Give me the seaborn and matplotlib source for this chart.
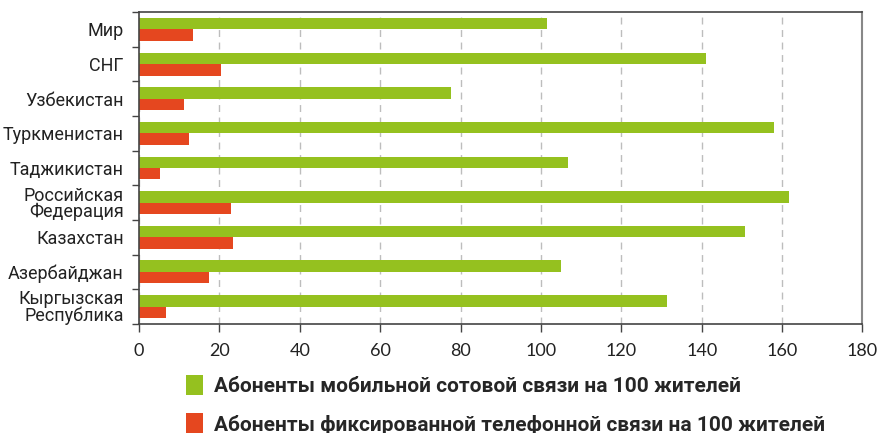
import matplotlib
matplotlib.use("Agg")
import matplotlib.pyplot as plt
from matplotlib.patches import Patch
from matplotlib.ticker import FixedLocator
import seaborn as sns
import pandas as pd

countries = ["Мир", "СНГ", "Узбекистан", "Туркменистан", "Таджикистан",
             "Российская\nФедерация", "Казахстан", "Азербайджан",
             "Кыргызская\nРеспублика"]
mobile = [101.5, 141.2, 77.6, 157.9, 106.7, 161.7, 150.8, 105.1, 131.4]
fixed = [13.4, 20.5, 11.3, 12.4, 5.1, 22.9, 23.3, 17.3, 6.6]
series = ["Абоненты мобильной сотовой связи на 100 жителей",
          "Абоненты фиксированной телефонной связи на 100 жителей"]
colors = ["#95C11F", "#E5471F"]
x_ticks = [0, 20, 40, 60, 80, 100, 120, 140, 160, 180]

df = pd.concat([
    pd.DataFrame({"country": countries, "value": mobile, "series": series[0]}),
    pd.DataFrame({"country": countries, "value": fixed, "series": series[1]}),
])

sns.set_style("white")
label_font = ["Roboto", "DejaVu Sans"]

fig = plt.figure(figsize=(8.8, 4.33), dpi=100)
ax = fig.add_axes([0.158, 0.252, 0.822, 0.720])

sns.barplot(data=df, y="country", x="value", hue="series", orient="h",
            order=countries, hue_order=series, palette=colors,
            width=0.66, saturation=1, legend=False, linewidth=0, ax=ax)

ax.set_xlim(0, 180)
ax.set_ylim(len(countries) - 0.5, -0.5)
ax.set_xlabel("")
ax.set_ylabel("")

# dashed vertical grid
ax.xaxis.set_major_locator(FixedLocator(x_ticks))
ax.grid(axis="x", color="#bdbdbd", linestyle=(0, (5, 4)), linewidth=1)
ax.grid(axis="y", visible=False)
ax.set_axisbelow(True)

for side in ["left", "bottom", "top"]:
    ax.spines[side].set_color("#444444")
    ax.spines[side].set_linewidth(1.2)
ax.spines["right"].set_color("#888888")
ax.spines["right"].set_linewidth(1.5)

ax.set_xticklabels([str(v) for v in x_ticks], fontsize=13, family="Lato",
                   color="#222222")
ax.tick_params(axis="x", direction="out", length=6, width=1, color="#444444",
               pad=8, bottom=True)

# category tick marks on band boundaries, labels centered
ax.yaxis.set_minor_locator(FixedLocator([i - 0.5 for i in range(len(countries) + 1)]))
ax.tick_params(axis="y", which="minor", direction="out", length=5, width=1,
               color="#444444", left=True)
ax.tick_params(axis="y", which="major", length=0, pad=11)
for lbl in ax.get_yticklabels():
    lbl.set_fontfamily(label_font)
    lbl.set_fontsize(13)
    lbl.set_color("#222222")
    lbl.set_linespacing(0.9)

handles = [Patch(facecolor=c, edgecolor="none") for c in colors]
fig.legend(handles, series, loc="upper left", bbox_to_anchor=(0.19, 0.178),
           frameon=False, handlelength=0.8, handleheight=1.1,
           handletextpad=0.55, labelspacing=0.85,
           prop={"family": label_font, "weight": "bold", "size": 15})

fig.savefig("out.png", dpi=100)
